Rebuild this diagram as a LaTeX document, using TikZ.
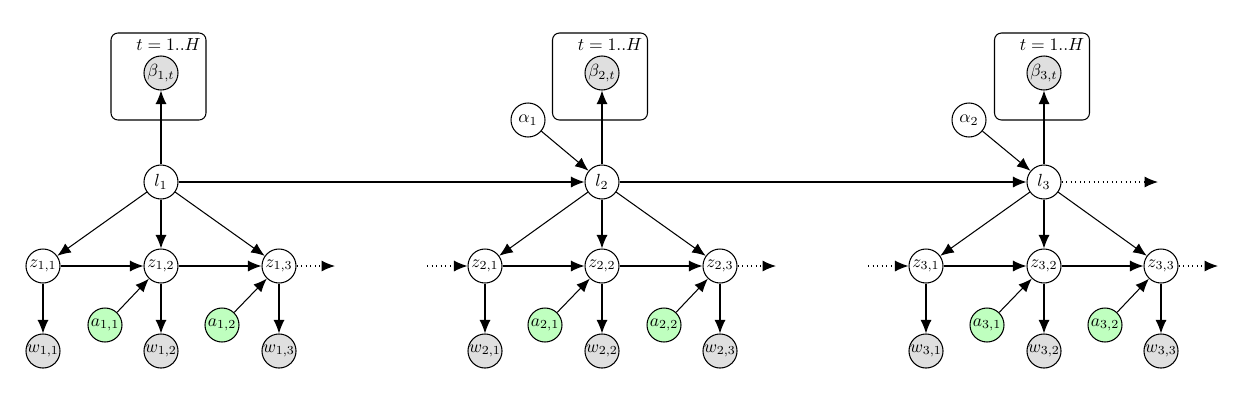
\documentclass[tikz,border=0pt]{standalone}
\usetikzlibrary{arrows.meta}
\begin{document}
\begin{tikzpicture}[
    var/.style={circle, draw, minimum size=0.68cm, inner sep=0pt},
    obs/.style={var, fill=gray!25},
    act/.style={var, fill=green!25},
    plate/.style={draw, rounded corners=4pt, minimum width=1.9cm, minimum height=1.74cm},
    edge/.style={-{Latex[length=2.7mm, width=2.2mm]}},
    more/.style={edge, dotted},
    line width=0.6pt]
  \useasboundingbox (0,0) rectangle (24.74,8.04);
  % first slice
  \node[var] (l1) at (3.22,4.40) {$l_1$};
  \node[plate] (p1) at (3.17,6.51) {};
  \node[anchor=north east, inner sep=3pt] (t1) at (p1.north east) {$t=1..H$};
  \node[obs] (b1) at (3.22,6.58) {$\beta_{1,t}$};
  \node[var] (z11) at (0.86,2.72) {$z_{1,1}$};
  \node[var] (z12) at (3.22,2.72) {$z_{1,2}$};
  \node[var] (z13) at (5.58,2.72) {$z_{1,3}$};
  \node[obs] (w11) at (0.86,1.02) {$w_{1,1}$};
  \node[obs] (w12) at (3.22,1.02) {$w_{1,2}$};
  \node[obs] (w13) at (5.58,1.02) {$w_{1,3}$};
  \node[act] (a11) at (2.10,1.54) {$a_{1,1}$};
  \node[act] (a12) at (4.44,1.54) {$a_{1,2}$};
  \coordinate (c1) at (6.70,2.72);
  % second slice
  \node[var] (l2) at (12.04,4.40) {$l_2$};
  \node[var] (al1) at (10.56,5.64) {$\alpha_1$};
  \node[plate] (p2) at (12.00,6.51) {};
  \node[anchor=north east, inner sep=3pt] (t2) at (p2.north east) {$t=1..H$};
  \node[obs] (b2) at (12.04,6.58) {$\beta_{2,t}$};
  \node[var] (z21) at (9.70,2.72) {$z_{2,1}$};
  \node[var] (z22) at (12.04,2.72) {$z_{2,2}$};
  \node[var] (z23) at (14.40,2.72) {$z_{2,3}$};
  \node[obs] (w21) at (9.70,1.02) {$w_{2,1}$};
  \node[obs] (w22) at (12.04,1.02) {$w_{2,2}$};
  \node[obs] (w23) at (14.40,1.02) {$w_{2,3}$};
  \node[act] (a21) at (10.90,1.54) {$a_{2,1}$};
  \node[act] (a22) at (13.28,1.54) {$a_{2,2}$};
  \coordinate (c2) at (8.54,2.72);
  \coordinate (c3) at (15.52,2.72);
  % third slice
  \node[var] (l3) at (20.88,4.40) {$l_3$};
  \node[var] (al2) at (19.38,5.64) {$\alpha_2$};
  \node[plate] (p3) at (20.84,6.51) {};
  \node[anchor=north east, inner sep=3pt] (t3) at (p3.north east) {$t=1..H$};
  \node[obs] (b3) at (20.88,6.58) {$\beta_{3,t}$};
  \node[var] (z31) at (18.52,2.72) {$z_{3,1}$};
  \node[var] (z32) at (20.88,2.72) {$z_{3,2}$};
  \node[var] (z33) at (23.22,2.72) {$z_{3,3}$};
  \node[obs] (w31) at (18.52,1.02) {$w_{3,1}$};
  \node[obs] (w32) at (20.88,1.02) {$w_{3,2}$};
  \node[obs] (w33) at (23.22,1.02) {$w_{3,3}$};
  \node[act] (a31) at (19.74,1.54) {$a_{3,1}$};
  \node[act] (a32) at (22.10,1.54) {$a_{3,2}$};
  \coordinate (c4) at (17.36,2.72);
  \coordinate (c5) at (24.36,2.72);
  \coordinate (c6) at (23.16,4.40);
  % edges
  \draw[edge] (l1) -- (b1);
  \draw[edge] (l1) -- (z11);
  \draw[edge] (l1) -- (z12);
  \draw[edge] (l1) -- (z13);
  \draw[edge] (z11) -- (z12);
  \draw[edge] (z12) -- (z13);
  \draw[edge] (z11) -- (w11);
  \draw[edge] (z12) -- (w12);
  \draw[edge] (z13) -- (w13);
  \draw[edge] (a11) -- (z12);
  \draw[edge] (a12) -- (z13);
  \draw[more] (z13) -- (c1);
  \draw[edge] (l1) -- (l2);
  \draw[edge] (al1) -- (l2);
  \draw[edge] (l2) -- (b2);
  \draw[edge] (l2) -- (z21);
  \draw[edge] (l2) -- (z22);
  \draw[edge] (l2) -- (z23);
  \draw[more] (c2) -- (z21);
  \draw[edge] (z21) -- (z22);
  \draw[edge] (z22) -- (z23);
  \draw[edge] (z21) -- (w21);
  \draw[edge] (z22) -- (w22);
  \draw[edge] (z23) -- (w23);
  \draw[edge] (a21) -- (z22);
  \draw[edge] (a22) -- (z23);
  \draw[more] (z23) -- (c3);
  \draw[edge] (l2) -- (l3);
  \draw[edge] (al2) -- (l3);
  \draw[edge] (l3) -- (b3);
  \draw[edge] (l3) -- (z31);
  \draw[edge] (l3) -- (z32);
  \draw[edge] (l3) -- (z33);
  \draw[more] (c4) -- (z31);
  \draw[edge] (z31) -- (z32);
  \draw[edge] (z32) -- (z33);
  \draw[edge] (z31) -- (w31);
  \draw[edge] (z32) -- (w32);
  \draw[edge] (z33) -- (w33);
  \draw[edge] (a31) -- (z32);
  \draw[edge] (a32) -- (z33);
  \draw[more] (z33) -- (c5);
  \draw[more] (l3) -- (c6);
\end{tikzpicture}
\end{document}
